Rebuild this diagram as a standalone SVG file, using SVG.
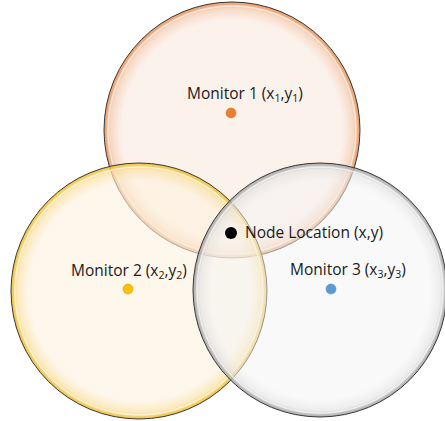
<svg xmlns="http://www.w3.org/2000/svg" width="445" height="421" viewBox="0 0 445 421">
<defs>
<radialGradient id="gO" cx="0.5" cy="0.5" r="0.5">
<stop offset="0.86" stop-color="#f9e8de" stop-opacity="0.6"/>
<stop offset="0.95" stop-color="#f4cbb0" stop-opacity="0.75"/>
<stop offset="1" stop-color="#e48a4e" stop-opacity="0.9"/>
</radialGradient>
<radialGradient id="gY" cx="0.5" cy="0.5" r="0.5">
<stop offset="0.86" stop-color="#fdf1dc" stop-opacity="0.6"/>
<stop offset="0.95" stop-color="#fae2a6" stop-opacity="0.75"/>
<stop offset="1" stop-color="#eeb820" stop-opacity="0.9"/>
</radialGradient>
<radialGradient id="gG" cx="0.5" cy="0.5" r="0.5">
<stop offset="0.86" stop-color="#f3f3f3" stop-opacity="0.5"/>
<stop offset="0.95" stop-color="#e2e2e2" stop-opacity="0.65"/>
<stop offset="1" stop-color="#9a9a9a" stop-opacity="0.9"/>
</radialGradient>
<style>
.ring{stroke:#3a3a3a;stroke-width:1}
.hl{fill:none;stroke:#ffffff;stroke-width:1.5;stroke-opacity:0.6}
.lbl{font-family:"Open Sans","Liberation Sans",sans-serif;font-size:15.5px;fill:#1a1a1a}
.sub{font-size:10.5px}
</style>
</defs>
<rect width="445" height="421" fill="#ffffff"/>
<g id="monitor1">
<circle class="ring" cx="232" cy="130" r="128" fill="url(#gO)"/>
<circle class="hl" cx="232" cy="130" r="124"/>
</g>
<g id="monitor2">
<circle class="ring" cx="139" cy="291" r="128" fill="url(#gY)"/>
<circle class="hl" cx="139" cy="291" r="124"/>
</g>
<g id="monitor3">
<circle class="ring" cx="320" cy="290" r="127" fill="url(#gG)"/>
<circle class="hl" cx="320" cy="290" r="123"/>
</g>
<g id="monitor1-label">
<circle cx="231" cy="113" r="5" fill="#ed7d31" stroke="#c86420" stroke-width="0.5"/>
<text class="lbl" x="187" y="99">Monitor 1 (x<tspan class="sub" dy="3">1</tspan><tspan dy="-3">,y</tspan><tspan class="sub" dy="3">1</tspan><tspan dy="-3">)</tspan></text>
</g>
<g id="monitor2-label">
<circle cx="128" cy="289" r="5" fill="#ffc000" stroke="#c89600" stroke-width="0.5"/>
<text class="lbl" x="71" y="276">Monitor 2 (x<tspan class="sub" dy="3">2</tspan><tspan dy="-3">,y</tspan><tspan class="sub" dy="3">2</tspan><tspan dy="-3">)</tspan></text>
</g>
<g id="monitor3-label">
<circle cx="331" cy="289" r="5" fill="#5b9bd5" stroke="#4a82b8" stroke-width="0.5"/>
<text class="lbl" x="290" y="275">Monitor 3 (x<tspan class="sub" dy="3">3</tspan><tspan dy="-3">,y</tspan><tspan class="sub" dy="3">3</tspan><tspan dy="-3">)</tspan></text>
</g>
<g id="node">
<circle cx="231" cy="233" r="6" fill="#000000"/>
<text class="lbl" x="245" y="238">Node Location (x,y)</text>
</g>
<g id="connectors"/>
</svg>
